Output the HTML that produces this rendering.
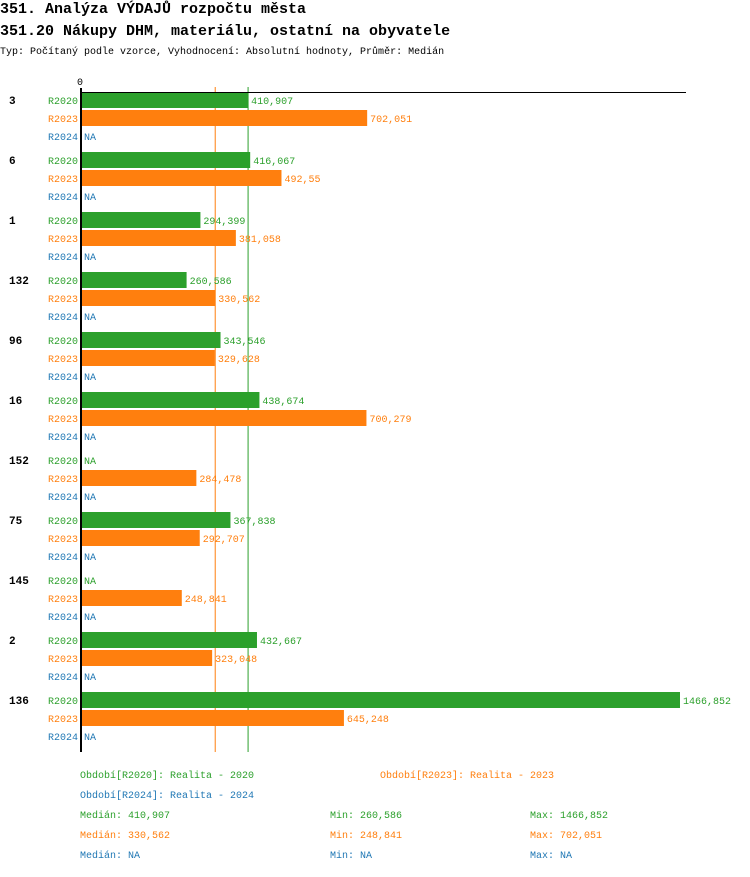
<!DOCTYPE html>
<html><head><meta charset="utf-8"><style>
body{margin:0;background:#fff;}
svg text{font-family:"Liberation Mono","DejaVu Sans Mono",monospace;}
</style></head><body>
<svg id="chart" width="750" height="872" xmlns="http://www.w3.org/2000/svg">
<text x="0" y="13" font-size="15" font-weight="bold">351. Analýza VÝDAJŮ rozpočtu města</text>
<text x="0" y="35" font-size="15" font-weight="bold">351.20 Nákupy DHM, materiálu, ostatní na obyvatele</text>
<text x="0" y="54" font-size="10">Typ: Počítaný podle vzorce, Vyhodnocení: Absolutní hodnoty, Průměr: Medián</text>
<g id="plot"></g>
<g id="legend" font-size="10">
<text x="80" y="778" fill="#2ca02c">Období[R2020]: Realita - 2020</text>
<text x="380" y="778" fill="#ff7f0e">Období[R2023]: Realita - 2023</text>
<text x="80" y="798" fill="#1f77b4">Období[R2024]: Realita - 2024</text>
<text x="80" y="818" fill="#2ca02c">Medián: 410,907</text>
<text x="330" y="818" fill="#2ca02c">Min: 260,586</text>
<text x="530" y="818" fill="#2ca02c">Max: 1466,852</text>
<text x="80" y="838" fill="#ff7f0e">Medián: 330,562</text>
<text x="330" y="838" fill="#ff7f0e">Min: 248,841</text>
<text x="530" y="838" fill="#ff7f0e">Max: 702,051</text>
<text x="80" y="858" fill="#1f77b4">Medián: NA</text>
<text x="330" y="858" fill="#1f77b4">Min: NA</text>
<text x="530" y="858" fill="#1f77b4">Max: NA</text>
</g>
</svg>
<script>
const categories = ["3","6","1","132","96","16","152","75","145","2","136"];
const seriesNames = ["R2020","R2023","R2024"];
const r2020 = [410.907,416.067,294.399,260.586,343.546,438.674,null,367.838,null,432.667,1466.852];
const r2023 = [702.051,492.55,381.058,330.562,329.628,700.279,284.478,292.707,248.841,323.048,645.248];
const r2024 = [null,null,null,null,null,null,null,null,null,null,null];
const medians = [410.907,330.562,null];
const colors = ["#2ca02c","#ff7f0e","#1f77b4"];
const series = [r2020,r2023,r2024];
const NS="http://www.w3.org/2000/svg";
const x0=80, xMaxPx=680, vMax=1466.852;
function xs(v){return x0+(v/vMax)*(xMaxPx-x0);}
function ys(gi,si){return 100+gi*60+si*18;}
function fmt(v){return String(v).replace('.',',');}
const g=document.getElementById('plot');
function mk(t,attrs){const e=document.createElementNS(NS,t);for(const k in attrs)e.setAttribute(k,attrs[k]);g.appendChild(e);return e;}
medians.forEach((m,i)=>{ if(m==null)return;
  const l=mk('line',{x1:xs(m),x2:xs(m),y1:87,y2:752,stroke:colors[i],'stroke-width':1});
  
  
});
categories.forEach((c,gi)=>{
  const t=mk('text',{x:9,y:ys(gi,0)+4,'font-size':11,'font-weight':'bold'});t.textContent=c;
  
  
  series.forEach((s,si)=>{
    const y=ys(gi,si);
    const l=mk('text',{x:78,y:y+4,'font-size':10,fill:colors[si],'text-anchor':'end'});l.textContent=seriesNames[si];
    
    
    const v=s[gi];
    if(v==null){
      const n=mk('text',{x:84,y:y+4,'font-size':10,fill:colors[si]});n.textContent='NA';
      
      
    } else {
      const r=mk('rect',{x:x0,y:y-8,width:xs(v)-x0,height:16,fill:colors[si]});
      
      
      const vl=mk('text',{x:xs(v)+3,y:y+4,'font-size':10,fill:colors[si]});vl.textContent=fmt(v);
      
      
    }
  });
});
const ax=mk('line',{x1:x0,x2:686,y1:92.5,y2:92.5,stroke:'#000','stroke-width':1});


const ay=mk('line',{x1:x0+1,x2:x0+1,y1:88,y2:752,stroke:'#000','stroke-width':2});


const z=mk('text',{x:x0,y:85,'font-size':10,'text-anchor':'middle'});z.textContent='0';


</script>
</body></html>
